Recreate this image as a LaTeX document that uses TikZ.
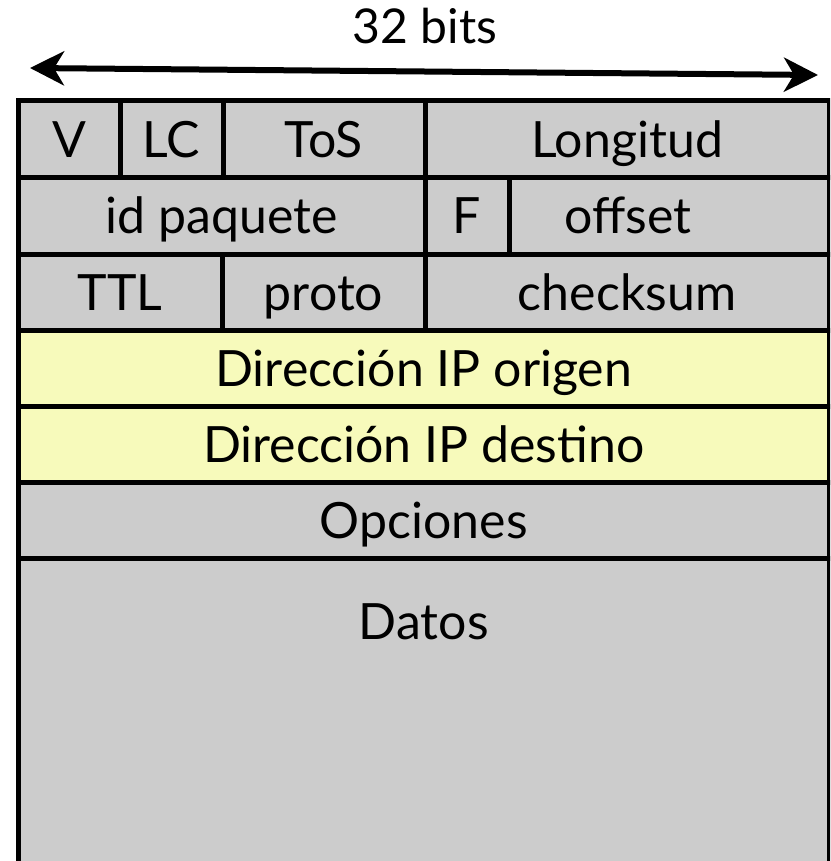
\documentclass[tikz,border=0pt]{standalone}
\usepackage{fontspec}
\setmainfont{Lato}
\usetikzlibrary{arrows.meta}
\definecolor{hdrgray}{RGB}{204,204,204}
\definecolor{addryellow}{RGB}{247,250,187}
\begin{document}
\begin{tikzpicture}[x=0.5pt,y=-0.5pt]
\tikzset{cell/.style={draw=black, line width=2.5pt, fill=hdrgray},
  addr/.style={cell, fill=addryellow},
  lbl/.style={inner sep=0pt, text height=18pt, text depth=0pt, font=\fontsize{25}{30}\selectfont},
  span/.style={line width=3pt, {Stealth[length=17pt,width=17pt,inset=5pt]}-{Stealth[length=17pt,width=17pt,inset=5pt]}}}
\useasboundingbox (0,0) rectangle (830,861);
\clip (0,0) rectangle (830,861);
% width of a row
\node[lbl, font=\fontsize{24}{28}\selectfont, text height=17pt] (bits) at (425,27) {32 bits};
\coordinate (lend) at (30,68);
\coordinate (rend) at (818,75);
\draw[span] (lend) -- (rend);
% first word
\draw[cell] (18.5,101) rectangle (120,178);
\node[lbl] (ver) at (69.25,139.5) {V};
\draw[cell] (120,101) rectangle (223,178);
\node[lbl] (lc) at (171.5,139.5) {LC};
\draw[cell] (223,101) rectangle (425,178);
\node[lbl] (tos) at (324,139.5) {ToS};
\draw[cell] (425,101) rectangle (829,178);
\node[lbl] (len) at (627,139.5) {Longitud};
% second word
\draw[cell] (18.5,178) rectangle (425,254);
\node[lbl] (ident) at (221.75,216) {id paquete};
\draw[cell] (425,178) rectangle (509,254);
\node[lbl] (flags) at (467,216) {F};
\draw[cell] (509,178) rectangle (829,254);
\node[lbl] (off) at (628,216) {offset};
% third word
\draw[cell] (18.5,254) rectangle (222,330);
\node[lbl] (ttl) at (120.25,292) {TTL};
\draw[cell] (222,254) rectangle (425,330);
\node[lbl] (proto) at (323.5,292) {proto};
\draw[cell] (425,254) rectangle (829,330);
\node[lbl] (csum) at (627,292) {checksum};
% addresses
\draw[addr] (18.5,330) rectangle (829,406);
\node[lbl] (src) at (423.75,368) {Dirección IP origen};
\draw[addr] (18.5,406) rectangle (829,482);
\node[lbl] (dst) at (423.75,444) {Dirección IP destino};
% options and payload
\draw[cell] (18.5,482) rectangle (829,558);
\node[lbl] (opts) at (423.75,520) {Opciones};
\draw[cell] (18.5,558) rectangle (829,900);
\node[lbl] (data) at (423.75,621.5) {Datos};
\end{tikzpicture}
\end{document}
